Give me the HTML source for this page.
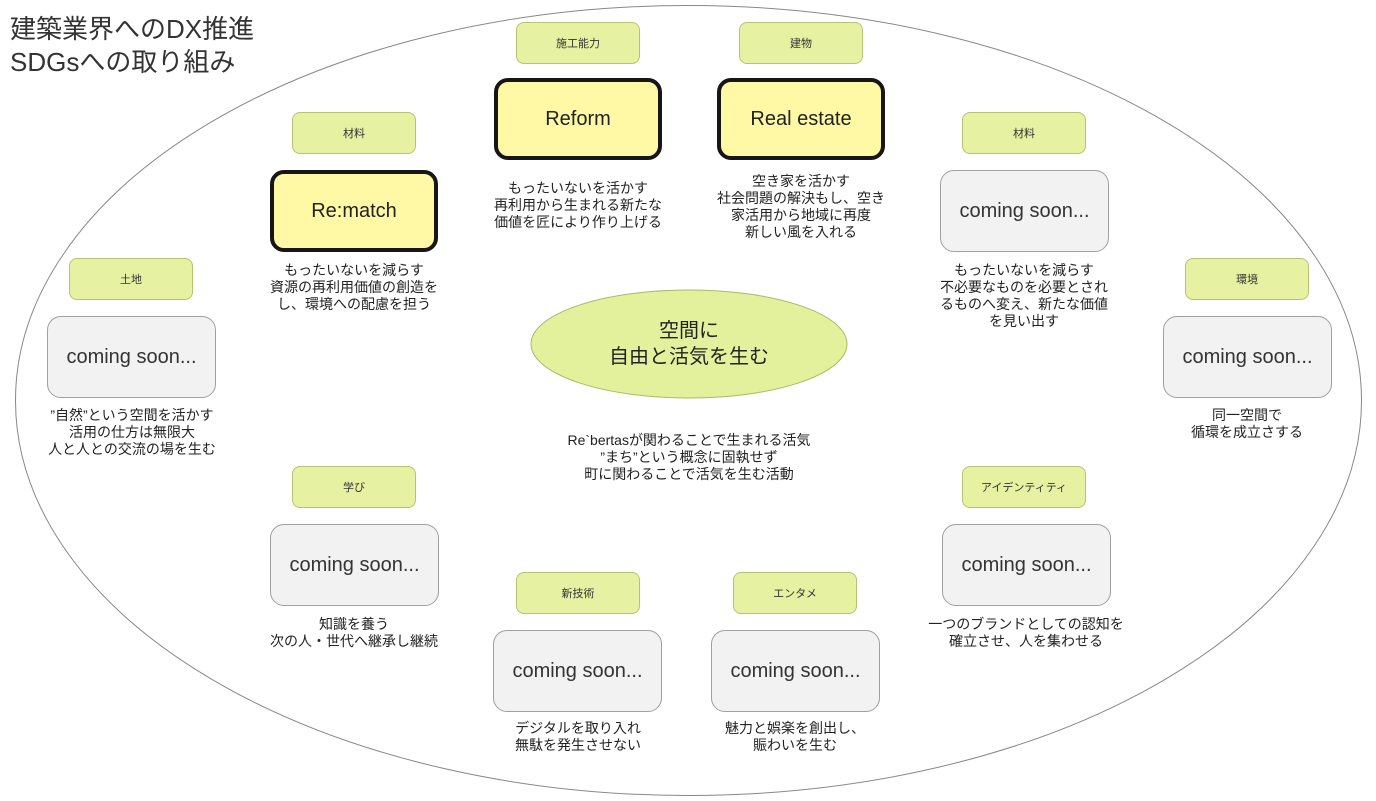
<!DOCTYPE html><html><head><meta charset="utf-8"><style>
body{margin:0;width:1376px;height:801px;background:#fff;position:relative;overflow:hidden;font-family:"Liberation Sans","Noto Sans CJK JP",sans-serif;color:#222}
.a{position:absolute;box-sizing:border-box;display:flex;align-items:center;justify-content:center;text-align:center}
.t{width:124px;height:42px;background:#e6f2a2;border:1px solid #b7c274;border-radius:8px;font-size:11px;color:#333}
.y{width:168px;height:82px;background:#fff9a6;border:4px solid #161616;border-radius:14px;font-size:20px}
.g{width:169px;height:82px;background:#f2f2f2;border:1px solid #a0a0a0;border-radius:14px;font-size:20px;color:#333}
.d{position:absolute;width:240px;text-align:center;font-size:14px;line-height:17px;color:#222}
</style></head><body>
<svg width="1376" height="801" style="position:absolute;left:0;top:0"><ellipse cx="688.5" cy="400.5" rx="673" ry="395" fill="none" stroke="#888" stroke-width="1"/><ellipse cx="689" cy="344" rx="158" ry="54" fill="#e4f19c" stroke="#aab868" stroke-width="1"/></svg>
<div style="position:absolute;left:10px;top:13px;font-size:26px;line-height:33px;color:#333;white-space:nowrap">建築業界へのDX推進<br>SDGsへの取り組み</div>
<div class="a" style="left:531px;top:290px;width:316px;height:108px;font-size:20px;line-height:26px">空間に<br>自由と活気を生む</div>
<div class="d" style="left:529px;top:432px;width:320px">Re`bertasが関わることで生まれる活気<br>”まち”という概念に固執せず<br>町に関わることで活気を生む活動</div>

<div class="a t" style="left:516px;top:22px">施工能力</div>
<div class="a y" style="left:494px;top:78px">Reform</div>
<div class="d" style="left:458px;top:180px">もったいないを活かす<br>再利用から生まれる新たな<br>価値を匠により作り上げる</div>

<div class="a t" style="left:739px;top:22px">建物</div>
<div class="a y" style="left:717px;top:78px">Real estate</div>
<div class="d" style="left:681px;top:173px">空き家を活かす<br>社会問題の解決もし、空き<br>家活用から地域に再度<br>新しい風を入れる</div>

<div class="a t" style="left:292px;top:112px">材料</div>
<div class="a y" style="left:270px;top:170px">Re:match</div>
<div class="d" style="left:234px;top:262px">もったいないを減らす<br>資源の再利用価値の創造を<br>し、環境への配慮を担う</div>

<div class="a t" style="left:962px;top:112px">材料</div>
<div class="a g" style="left:940px;top:170px">coming soon...</div>
<div class="d" style="left:904px;top:262px">もったいないを減らす<br>不必要なものを必要とされ<br>るものへ変え、新たな価値<br>を見い出す</div>

<div class="a t" style="left:69px;top:258px">土地</div>
<div class="a g" style="left:47px;top:316px">coming soon...</div>
<div class="d" style="left:12px;top:407px">”自然”という空間を活かす<br>活用の仕方は無限大<br>人と人との交流の場を生む</div>

<div class="a t" style="left:1185px;top:258px">環境</div>
<div class="a g" style="left:1163px;top:316px">coming soon...</div>
<div class="d" style="left:1127px;top:407px">同一空間で<br>循環を成立さする</div>

<div class="a t" style="left:292px;top:466px">学び</div>
<div class="a g" style="left:270px;top:524px">coming soon...</div>
<div class="d" style="left:234px;top:616px">知識を養う<br>次の人・世代へ継承し継続</div>

<div class="a t" style="left:962px;top:466px">アイデンティティ</div>
<div class="a g" style="left:942px;top:524px">coming soon...</div>
<div class="d" style="left:896px;top:616px;width:260px">一つのブランドとしての認知を<br>確立させ、人を集わせる</div>

<div class="a t" style="left:516px;top:572px">新技術</div>
<div class="a g" style="left:493px;top:630px">coming soon...</div>
<div class="d" style="left:458px;top:720px">デジタルを取り入れ<br>無駄を発生させない</div>

<div class="a t" style="left:733px;top:572px">エンタメ</div>
<div class="a g" style="left:711px;top:630px">coming soon...</div>
<div class="d" style="left:675px;top:720px">魅力と娯楽を創出し、<br>賑わいを生む</div>
</body></html>
